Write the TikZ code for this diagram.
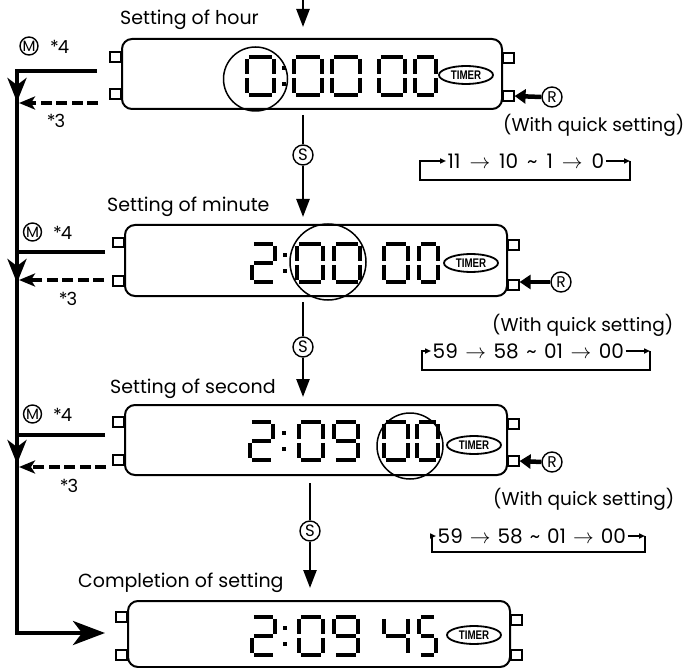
\documentclass[tikz,border=0pt]{standalone}
\usepackage{fontspec}
\usepackage{graphicx}
\setmainfont{Poppins}
\newfontfamily\timerfont{Liberation Sans}
\usetikzlibrary{arrows.meta,shapes.geometric,calc}
\newcommand\Dg[4]{\begin{scope}[shift={(#1,#2)}]\def\dgw{#3}#4\end{scope}}
\newcommand\sA{\draw[seg] (1.8,0) -- ({\dgw-1.8},0);}
\newcommand\sB{\draw[seg] (\dgw,1.8) -- (\dgw,17.2);}
\newcommand\sC{\draw[seg] (\dgw,20.8) -- (\dgw,36.2);}
\newcommand\sD{\draw[seg] (1.8,38) -- ({\dgw-1.8},38);}
\newcommand\sE{\draw[seg] (0,20.8) -- (0,36.2);}
\newcommand\sF{\draw[seg] (0,1.8) -- (0,17.2);}
\newcommand\sG{\draw[seg] (1.8,19) -- ({\dgw-1.8},19);}
\newcommand\DZero{\sA\sB\sC\sD\sE\sF}
\newcommand\DTwo{\sA\sB\sG\sE\sD}
\newcommand\DNine{\sA\sB\sC\sD\sF\sG}
\newcommand\DFour{\sF\sG\sB\sC}
\newcommand\DFive{\sA\sF\sG\sC\sD}
\newcommand\Col[2]{\fill ({#1-2.2},{#2+9}) rectangle ({#1+2.2},{#2+13.4}); \fill ({#1-2.2},{#2+25}) rectangle ({#1+2.2},{#2+29.4});}
\newcommand\Cy[1]{\hspace{#1}$\rightarrow$\hspace{#1}}
\begin{document}
\begin{tikzpicture}[x=1pt,y=-1pt,line join=miter]
\tikzset{
 disp/.style={draw, line width=2pt, rounded corners=10pt, inner sep=0pt},
 btn/.style={draw, line width=1.6pt, minimum width=11pt, minimum height=9.5pt, inner sep=0pt},
 seg/.style={line width=4.6pt},
 hl/.style={draw, circle, line width=1.5pt, inner sep=0pt},
 tmr/.style={draw, ellipse, line width=1.8pt, inner sep=0pt, minimum width=54pt, minimum height=18pt, font=\timerfont\bfseries\fontsize{12.5}{13}\selectfont},
 lbl/.style={font=\fontsize{19}{22}\selectfont, inner sep=0pt, anchor=base west},
 wqs/.style={font=\fontsize{18.5}{22}\selectfont, inner sep=0pt, anchor=base west},
 cyc/.style={font=\fontsize{20}{22}\selectfont, inner sep=1.5pt, anchor=west},
 key/.style={draw, circle, line width=1.4pt, inner sep=0pt, minimum size=18pt, font=\fontsize{15}{16}\selectfont},
 note/.style={font=\fontsize{18}{20}\selectfont, inner sep=0pt},
 bus/.style={line width=4pt},
 downhead/.style={-{Stealth[length=24pt,width=19pt,inset=7pt]}},
 dashhead/.style={dash pattern=on 11pt off 4.5pt, -{Stealth[length=16pt,width=13pt,inset=4pt]}},
 sflow/.style={line width=2.5pt},
 shead/.style={-{Triangle[length=18pt,width=13pt]}},
 rarrow/.style={line width=4.5pt, -{Triangle[length=11pt,width=14pt]}},
 loop/.style={line width=1.5pt},
 loophead/.style={-{Triangle[length=6pt,width=5pt]}},
}
\useasboundingbox (0,0) rectangle (685,668);
\fill[white] (0,0) rectangle (685,668);

% ---------- displays ----------
\node[disp, minimum width=380pt, minimum height=70pt] (d1) at (312,74) {};
\node[disp, minimum width=382pt, minimum height=71pt] (d2) at (316,260.5) {};
\node[disp, minimum width=382pt, minimum height=70pt] (d3) at (316,440) {};
\node[disp, minimum width=382pt, minimum height=66pt] (d4) at (319,634) {};

% buttons
\node[btn, anchor=east] (b1a) at (122,57) {};
\node[btn, anchor=east] (b1b) at (122,94) {};
\node[btn, anchor=west] (b1c) at (502,58) {};
\node[btn, anchor=west] (b1d) at (502,96) {};
\node[btn, anchor=east] (b2a) at (125,242.5) {};
\node[btn, anchor=east] (b2b) at (125,281) {};
\node[btn, anchor=west] (b2c) at (507,245) {};
\node[btn, anchor=west] (b2d) at (507,285) {};
\node[btn, anchor=east] (b3a) at (125,422) {};
\node[btn, anchor=east] (b3b) at (125,460) {};
\node[btn, anchor=west] (b3c) at (507,424) {};
\node[btn, anchor=west] (b3d) at (507,461) {};
\node[btn, anchor=east] (b4a) at (128,617) {};
\node[btn, anchor=east] (b4b) at (128,655) {};
\node[btn, anchor=west] (b4c) at (510,620) {};
\node[btn, anchor=west] (b4d) at (510,655) {};

% digits
\Dg{247}{57}{27}{\DZero} \Col{284}{57}
\Dg{294}{57}{28}{\DZero} \Dg{332}{57}{28}{\DZero}
\Dg{379}{57}{26}{\DZero} \Dg{415}{57}{21}{\DZero}

\Dg{252}{244}{23}{\DTwo} \Col{285}{244}
\Dg{297}{244}{26}{\DZero} \Dg{334}{244}{26}{\DZero}
\Dg{384}{244}{24}{\DZero} \Dg{419}{244}{19}{\DZero}

\Dg{250}{422}{23}{\DTwo} \Col{284}{422}
\Dg{299}{422}{24}{\DZero} \Dg{334}{422}{24}{\DNine}
\Dg{384}{422}{24}{\DZero} \Dg{417}{422}{21}{\DZero}

\Dg{252}{617}{23}{\DTwo} \Col{285}{617}
\Dg{299}{617}{24}{\DZero} \Dg{334}{617}{24}{\DNine}
\Dg{384}{617}{24}{\DFour} \Dg{419}{617}{17}{\DFive}

% TIMER marks
\node[tmr] (t1) at (466,75) {\scalebox{0.78}[1]{TIMER}};
\node[tmr] (t2) at (471,263) {\scalebox{0.78}[1]{TIMER}};
\node[tmr] (t3) at (474,445) {\scalebox{0.78}[1]{TIMER}};
\node[tmr] (t4) at (474,635) {\scalebox{0.78}[1]{TIMER}};

% highlight circles
\node[hl, minimum size=64pt] (h1) at (255.5,79) {};
\node[hl, minimum size=76pt] (h2) at (328,262) {};
\node[hl, minimum size=66pt] (h3) at (410,446) {};

% ---------- labels ----------
\node[lbl] (l1) at (120,25) {Setting of hour};
\node[lbl] (l2) at (107,212) {Setting of minute};
\node[lbl] (l3) at (110,393) {Setting of second};
\node[lbl] (l4) at (78,587) {Completion of setting};

% ---------- S flow ----------
\coordinate (top0) at (303,0);
\coordinate (top1) at (303,27);
\draw[sflow, shead] (top0) -- (top1);
\node[key, minimum size=20pt, font=\fontsize{16.5}{17}\selectfont] (s1) at (303,155) {S};
\node[key, minimum size=20pt, font=\fontsize{16.5}{17}\selectfont] (s2) at (303,347) {S};
\node[key, minimum size=20pt, font=\fontsize{16.5}{17}\selectfont] (s3) at (310,531) {S};
\coordinate (s1a) at (303,115); \coordinate (s1b) at (303,217);
\coordinate (s2a) at (303,302); \coordinate (s2b) at (303,397);
\coordinate (s3a) at (310,483); \coordinate (s3b) at (310,588);
\draw[sflow] (s1a) -- (s1.north);
\draw[sflow, shead] (s1.south) -- (s1b);
\draw[sflow] (s2a) -- (s2.north);
\draw[sflow, shead] (s2.south) -- (s2b);
\draw[sflow] (s3a) -- (s3.north);
\draw[sflow, shead] (s3.south) -- (s3b);

% ---------- M bus ----------
\coordinate (m1) at (97,71);
\coordinate (m2) at (105,252);
\coordinate (m3) at (105,435);
\coordinate (c1) at (17,71);
\coordinate (c2) at (17,633);
\coordinate (fin) at (105,633);
\draw[bus, -{Stealth[length=32pt,width=24pt,inset=9pt]}] (m1) -- (c1) -- (c2) -- (fin);
\draw[bus] (m2) -- (m2 -| c1);
\draw[bus] (m3) -- (m3 -| c1);
\coordinate (a1s) at (17,85); \coordinate (a1e) at (17,102);
\coordinate (a2s) at (17,265); \coordinate (a2e) at (17,283);
\coordinate (a3s) at (17,447); \coordinate (a3e) at (17,464);
\draw[bus, downhead] (a1s) -- (a1e);
\draw[bus, downhead] (a2s) -- (a2e);
\draw[bus, downhead] (a3s) -- (a3e);
\coordinate (r1s) at (98,103); \coordinate (r1e) at (19,103);
\coordinate (r2s) at (104,280); \coordinate (r2e) at (19,280);
\coordinate (r3s) at (106,467); \coordinate (r3e) at (19,467);
\draw[bus, dashhead] (r1s) -- (r1e);
\draw[bus, dashhead] (r2s) -- (r2e);
\draw[bus, dashhead] (r3s) -- (r3e);

\node[key] (k1) at (29,46) {M};
\node[note, anchor=west] (n1) at (50,47) {*\kern-1pt4};
\node[key] (k2) at (32.5,232) {M};
\node[note, anchor=west] (n2) at (53,233) {*\kern-1pt4};
\node[key] (k3) at (32.5,414) {M};
\node[note, anchor=west] (n3) at (53,415) {*\kern-1pt4};
\node[note] (q1) at (56,121) {*\kern-1pt3};
\node[note] (q2) at (68,299) {*\kern-1pt3};
\node[note] (q3) at (69,486) {*\kern-1pt3};

% ---------- R keys ----------
\node[key, minimum size=20pt, font=\fontsize{15.5}{16}\selectfont] (rk1) at (552,97) {R};
\node[key, minimum size=20pt, font=\fontsize{15.5}{16}\selectfont] (rk2) at (561,282) {R};
\node[key, minimum size=20pt, font=\fontsize{15.5}{16}\selectfont] (rk3) at (552,462) {R};
\draw[rarrow] (rk1.west) -- (b1d.east);
\draw[rarrow] (rk2.west) -- ($(b2d.east)+(0,-3)$);
\draw[rarrow] (rk3.west) -- (b3d.east);

% ---------- quick setting ----------
\node[wqs] (w1) at (503,132) {(With quick setting)};
\node[wqs] (w2) at (492,331) {(With quick setting)};
\node[wqs] (w3) at (493,505) {(With quick setting)};

\node[cyc] (y1) at (446,161) {11\Cy{9pt}10\hspace{9pt}\textasciitilde\hspace{9pt}1\Cy{9pt}0};
\node[cyc] (y2) at (431,351) {59\Cy{7.5pt}58\hspace{7.5pt}\textasciitilde\hspace{7.5pt}01\Cy{7.5pt}00};
\node[cyc] (y3) at (436,536) {59\Cy{7pt}58\hspace{7pt}\textasciitilde\hspace{7pt}01\Cy{7pt}00};

\coordinate (y1r) at (630,161); \coordinate (y1l) at (420,161);
\draw[loop, loophead] (y1.east) -- (y1r);
\draw[loop, loophead] (y1r) -- (630,180) -- (420,180) -- (y1l) -- (y1.west);
\coordinate (y2r) at (650,351); \coordinate (y2l) at (422,351);
\draw[loop, loophead] (y2.east) -- (y2r);
\draw[loop, loophead] (y2r) -- (650,370) -- (422,370) -- (y2l) -- (y2.west);
\coordinate (y3r) at (645,536); \coordinate (y3l) at (432,536);
\draw[loop, loophead] (y3.east) -- (y3r);
\draw[loop, loophead] (y3r) -- (645,552) -- (432,552) -- (y3l) -- (y3.west);
\end{tikzpicture}
\end{document}
